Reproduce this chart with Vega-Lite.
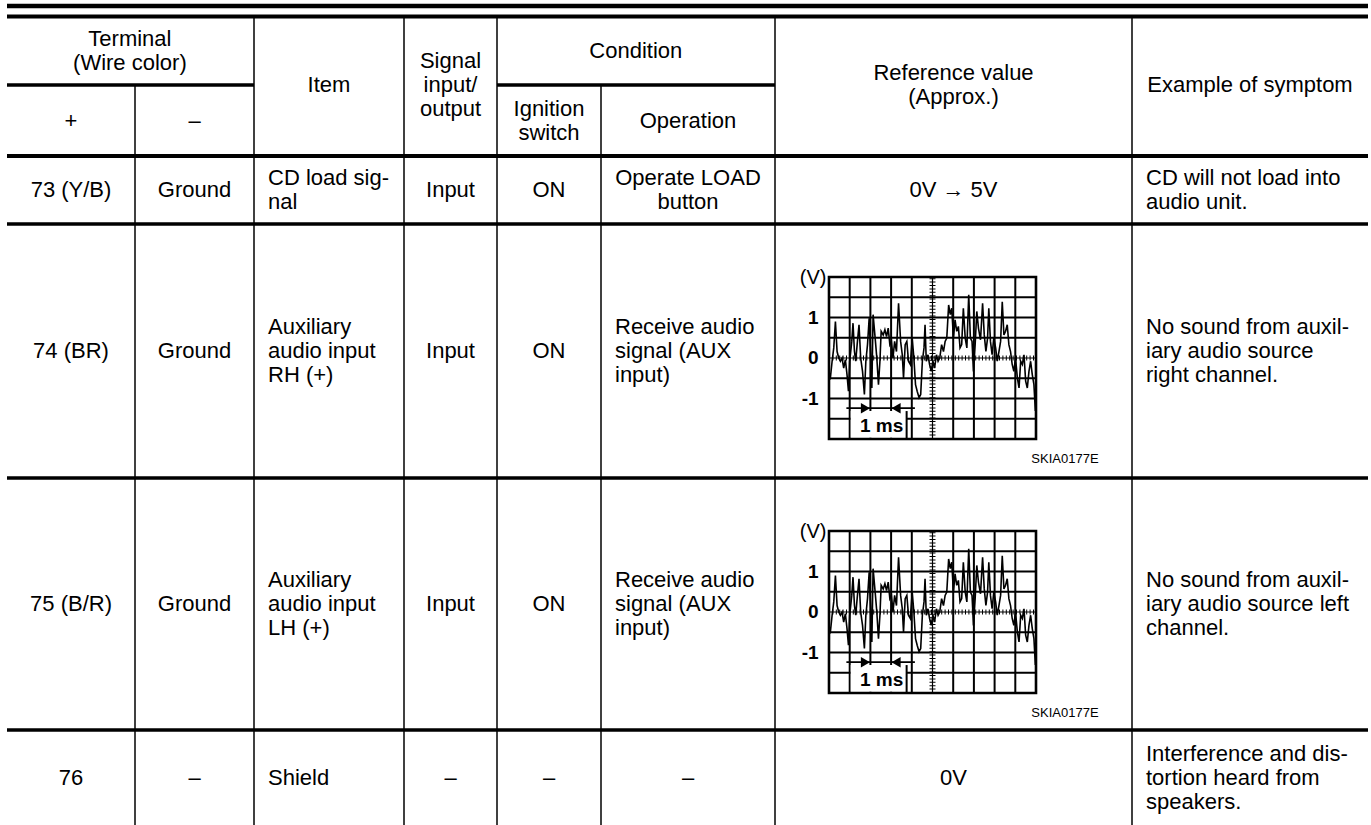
{
  "$schema": "https://vega.github.io/schema/vega-lite/v6.json",
  "width": 1371,
  "height": 825,
  "autosize": "none",
  "padding": 0,
  "background": "white",
  "config": {"font": "Liberation Sans", "view": {"stroke": null}},
  "datasets": {
    "hlines": [
      {"kind": "top", "y": 0, "x0": 0, "x1": 8},
      {"kind": "top2", "y": 1, "x0": 0, "x1": 8},
      {"kind": "thin", "y": 2, "x0": 0, "x1": 2},
      {"kind": "thin", "y": 2, "x0": 4, "x1": 6},
      {"kind": "head", "y": 3, "x0": 0, "x1": 8},
      {"kind": "thin", "y": 4, "x0": 0, "x1": 8},
      {"kind": "thin", "y": 5, "x0": 0, "x1": 8},
      {"kind": "thin", "y": 6, "x0": 0, "x1": 8}
    ],
    "vlines": [
      {"x": 1, "y0": 2, "y1": 7},
      {"x": 2, "y0": 1, "y1": 7},
      {"x": 3, "y0": 1, "y1": 7},
      {"x": 4, "y0": 1, "y1": 7},
      {"x": 5, "y0": 2, "y1": 7},
      {"x": 6, "y0": 1, "y1": 7},
      {"x": 7, "y0": 1, "y1": 7}
    ],
    "cells": [
      {"t": "Terminal\n(Wire color)", "c": 0.96, "r": 1.5, "a": "c"},
      {"t": "Item", "c": 2.5, "r": 2, "a": "c"},
      {"t": "Signal\ninput/\noutput", "c": 3.5, "r": 2, "a": "c"},
      {"t": "Condition", "c": 5.2, "r": 1.5, "a": "c"},
      {"t": "Reference value\n(Approx.)", "c": 6.5, "r": 2, "a": "c"},
      {"t": "Example of symptom", "c": 7.5, "r": 2, "a": "c"},
      {"t": "+", "c": 0.5, "r": 2.5, "a": "c"},
      {"t": "–", "c": 1.5, "r": 2.5, "a": "c"},
      {"t": "Ignition\nswitch", "c": 4.5, "r": 2.5, "a": "c"},
      {"t": "Operation", "c": 5.5, "r": 2.5, "a": "c"},
      {"t": "73 (Y/B)", "c": 0.5, "r": 3.5, "a": "c"},
      {"t": "Ground", "c": 1.5, "r": 3.5, "a": "c"},
      {"t": "CD load sig-\nnal", "c": 2, "r": 3.5, "a": "l"},
      {"t": "Input", "c": 3.5, "r": 3.5, "a": "c"},
      {"t": "ON", "c": 4.5, "r": 3.5, "a": "c"},
      {"t": "Operate LOAD\nbutton", "c": 5.5, "r": 3.5, "a": "c"},
      {"t": "0V → 5V", "c": 6.5, "r": 3.5, "a": "c"},
      {"t": "CD will not load into\naudio unit.", "c": 7, "r": 3.5, "a": "l"},
      {"t": "74 (BR)", "c": 0.5, "r": 4.5, "a": "c"},
      {"t": "Ground", "c": 1.5, "r": 4.5, "a": "c"},
      {"t": "Auxiliary\naudio input\nRH (+)", "c": 2, "r": 4.5, "a": "l"},
      {"t": "Input", "c": 3.5, "r": 4.5, "a": "c"},
      {"t": "ON", "c": 4.5, "r": 4.5, "a": "c"},
      {"t": "Receive audio\nsignal (AUX\ninput)", "c": 5, "r": 4.5, "a": "l"},
      {"t": "No sound from auxil-\niary audio source\nright channel.", "c": 7, "r": 4.5, "a": "l"},
      {"t": "75 (B/R)", "c": 0.5, "r": 5.5, "a": "c"},
      {"t": "Ground", "c": 1.5, "r": 5.5, "a": "c"},
      {"t": "Auxiliary\naudio input\nLH (+)", "c": 2, "r": 5.5, "a": "l"},
      {"t": "Input", "c": 3.5, "r": 5.5, "a": "c"},
      {"t": "ON", "c": 4.5, "r": 5.5, "a": "c"},
      {"t": "Receive audio\nsignal (AUX\ninput)", "c": 5, "r": 5.5, "a": "l"},
      {"t": "No sound from auxil-\niary audio source left\nchannel.", "c": 7, "r": 5.5, "a": "l"},
      {"t": "76", "c": 0.5, "r": 6.5, "a": "c"},
      {"t": "–", "c": 1.5, "r": 6.5, "a": "c"},
      {"t": "Shield", "c": 2, "r": 6.5, "a": "l"},
      {"t": "–", "c": 3.5, "r": 6.5, "a": "c"},
      {"t": "–", "c": 4.5, "r": 6.5, "a": "c"},
      {"t": "–", "c": 5.5, "r": 6.5, "a": "c"},
      {"t": "0V", "c": 6.5, "r": 6.5, "a": "c"},
      {"t": "Interference and dis-\ntortion heard from\nspeakers.", "c": 7, "r": 6.5, "a": "l"}
    ],
    "gx": [{"d": 1}, {"d": 2}, {"d": 3}, {"d": 4}, {"d": 6}, {"d": 7}, {"d": 8}, {"d": 9}],
    "gy": [{"v": -1.5}, {"v": -1}, {"v": -0.5}, {"v": 0.5}, {"v": 1}, {"v": 1.5}],
    "vlab": [{"t": "1", "v": 1}, {"t": "0", "v": 0}, {"t": "-1", "v": -1}],
    "one": [{"k": 1}],
    "wave": [
      {"d":0.00,"v":-0.33},{"d":0.06,"v":-0.53},{"d":0.15,"v":-0.08},{"d":0.23,"v":0.25},{"d":0.31,"v":0.90},
      {"d":0.39,"v":0.16},{"d":0.47,"v":0.00},{"d":0.55,"v":-0.08},{"d":0.63,"v":0.00},{"d":0.71,"v":-0.25},
      {"d":0.79,"v":-0.04},{"d":0.87,"v":-0.41},{"d":0.94,"v":-0.82},{"d":1.00,"v":-0.08},{"d":1.10,"v":0.41},
      {"d":1.16,"v":0.86},{"d":1.23,"v":0.16},{"d":1.29,"v":-0.08},{"d":1.36,"v":0.33},{"d":1.45,"v":0.82},
      {"d":1.53,"v":0.00},{"d":1.62,"v":-0.33},{"d":1.71,"v":-0.90},{"d":1.78,"v":-0.08},{"d":1.86,"v":0.33},
      {"d":1.94,"v":0.98},{"d":2.02,"v":0.00},{"d":2.07,"v":-0.74},{"d":2.13,"v":1.07},{"d":2.23,"v":0.49},
      {"d":2.31,"v":0.00},{"d":2.39,"v":-0.66},{"d":2.46,"v":-0.08},{"d":2.52,"v":0.66},{"d":2.62,"v":0.57},
      {"d":2.70,"v":0.70},{"d":2.78,"v":0.53},{"d":2.86,"v":0.74},{"d":2.94,"v":0.33},{"d":3.02,"v":0.41},
      {"d":3.09,"v":0.00},{"d":3.17,"v":0.41},{"d":3.26,"v":0.16},{"d":3.36,"v":1.35},{"d":3.46,"v":0.41},
      {"d":3.54,"v":0.08},{"d":3.60,"v":-0.49},{"d":3.68,"v":0.33},{"d":3.76,"v":0.41},{"d":3.84,"v":-0.08},
      {"d":3.93,"v":-0.16},{"d":4.02,"v":0.49},{"d":4.10,"v":0.00},{"d":4.18,"v":-0.66},{"d":4.26,"v":-0.82},
      {"d":4.35,"v":-0.98},{"d":4.43,"v":-0.90},{"d":4.51,"v":-0.08},{"d":4.59,"v":0.25},{"d":4.64,"v":0.82},
      {"d":4.70,"v":-0.08},{"d":4.78,"v":0.08},{"d":4.86,"v":-0.16},{"d":4.94,"v":-0.33},{"d":5.02,"v":-0.08},
      {"d":5.10,"v":-0.25},{"d":5.19,"v":0.08},{"d":5.27,"v":-0.08},{"d":5.35,"v":0.00},{"d":5.44,"v":0.33},
      {"d":5.53,"v":0.16},{"d":5.61,"v":0.41},{"d":5.69,"v":0.49},{"d":5.78,"v":1.31},{"d":5.86,"v":1.07},
      {"d":5.93,"v":1.23},{"d":6.01,"v":0.49},{"d":6.09,"v":0.94},{"d":6.17,"v":0.66},{"d":6.25,"v":0.78},
      {"d":6.33,"v":0.25},{"d":6.41,"v":0.33},{"d":6.49,"v":1.23},{"d":6.58,"v":0.49},{"d":6.66,"v":0.25},
      {"d":6.75,"v":1.56},{"d":6.83,"v":0.49},{"d":6.91,"v":0.41},{"d":6.98,"v":-0.33},{"d":7.06,"v":0.33},
      {"d":7.14,"v":1.15},{"d":7.22,"v":0.74},{"d":7.32,"v":0.45},{"d":7.42,"v":1.35},{"d":7.50,"v":0.57},
      {"d":7.58,"v":0.16},{"d":7.66,"v":0.49},{"d":7.72,"v":1.23},{"d":7.80,"v":0.41},{"d":7.88,"v":0.08},
      {"d":7.96,"v":0.49},{"d":8.05,"v":0.25},{"d":8.13,"v":-0.08},{"d":8.21,"v":0.16},{"d":8.29,"v":0.41},
      {"d":8.37,"v":1.39},{"d":8.45,"v":0.57},{"d":8.53,"v":0.66},{"d":8.61,"v":0.82},{"d":8.69,"v":0.33},
      {"d":8.77,"v":0.16},{"d":8.85,"v":-0.16},{"d":8.93,"v":-0.33},{"d":9.01,"v":0.00},{"d":9.10,"v":-0.49},
      {"d":9.18,"v":-0.74},{"d":9.26,"v":-0.08},{"d":9.34,"v":-0.16},{"d":9.42,"v":0.08},{"d":9.50,"v":-0.57},
      {"d":9.58,"v":-0.74},{"d":9.66,"v":-0.33},{"d":9.74,"v":-0.08},{"d":9.82,"v":-0.41},{"d":9.90,"v":-0.66},
      {"d":9.97,"v":-1.31}
    ]
  },
  "resolve": {"scale": {"x": "independent", "y": "independent"}},
  "layer": [
    {
      "layer": [
        {
          "data": {"name": "hlines"},
          "mark": {"type": "rule", "color": "#000"},
          "encoding": {
            "x": {"field": "x0", "type": "quantitative", "axis": null, "scale": {"domain": [0,1,2,3,4,5,6,7,8], "range": [7,135,254,404,497,601,775,1132,1368], "zero": false, "nice": false}},
            "x2": {"field": "x1"},
            "y": {"field": "y", "type": "quantitative", "axis": null, "scale": {"domain": [0,1,2,3,4,5,6,7], "range": [6,16.5,85,156,224,478,730,825], "zero": false, "nice": false}},
            "strokeWidth": {"field": "kind", "type": "nominal", "legend": null, "scale": {"domain": ["top","top2","head","thin"], "range": [4.5,3.5,2.2,1.5]}}
          }
        },
        {
          "data": {"name": "vlines"},
          "mark": {"type": "rule", "color": "#000", "strokeWidth": 1.5},
          "encoding": {
            "x": {"field": "x", "type": "quantitative", "axis": null},
            "y": {"field": "y0", "type": "quantitative", "axis": null},
            "y2": {"field": "y1"}
          }
        },
        {
          "data": {"name": "cells"},
          "transform": [{"filter": "datum.a === 'c' && indexof(datum.t, '\\n') < 0"}],
          "mark": {"type": "text", "align": "center", "baseline": "middle", "fontSize": 22, "lineHeight": 24, "lineBreak": "\n", "color": "#000"},
          "encoding": {"x": {"field": "c", "type": "quantitative", "axis": null}, "y": {"field": "r", "type": "quantitative", "axis": null}, "text": {"field": "t"}}
        },
        {
          "data": {"name": "cells"},
          "transform": [{"filter": "datum.a === 'c' && indexof(datum.t, '\\n') >= 0 && indexof(datum.t, '\\n') === lastindexof(datum.t, '\\n')"}],
          "mark": {"type": "text", "align": "center", "baseline": "middle", "dy": -12, "fontSize": 22, "lineHeight": 24, "lineBreak": "\n", "color": "#000"},
          "encoding": {"x": {"field": "c", "type": "quantitative", "axis": null}, "y": {"field": "r", "type": "quantitative", "axis": null}, "text": {"field": "t"}}
        },
        {
          "data": {"name": "cells"},
          "transform": [{"filter": "datum.a === 'c' && indexof(datum.t, '\\n') !== lastindexof(datum.t, '\\n')"}],
          "mark": {"type": "text", "align": "center", "baseline": "middle", "dy": -24, "fontSize": 22, "lineHeight": 24, "lineBreak": "\n", "color": "#000"},
          "encoding": {"x": {"field": "c", "type": "quantitative", "axis": null}, "y": {"field": "r", "type": "quantitative", "axis": null}, "text": {"field": "t"}}
        },
        {
          "data": {"name": "cells"},
          "transform": [{"filter": "datum.a === 'l' && indexof(datum.t, '\\n') < 0"}],
          "mark": {"type": "text", "align": "left", "baseline": "middle", "dx": 14, "fontSize": 22, "lineHeight": 24, "lineBreak": "\n", "color": "#000"},
          "encoding": {"x": {"field": "c", "type": "quantitative", "axis": null}, "y": {"field": "r", "type": "quantitative", "axis": null}, "text": {"field": "t"}}
        },
        {
          "data": {"name": "cells"},
          "transform": [{"filter": "datum.a === 'l' && indexof(datum.t, '\\n') >= 0 && indexof(datum.t, '\\n') === lastindexof(datum.t, '\\n')"}],
          "mark": {"type": "text", "align": "left", "baseline": "middle", "dx": 14, "dy": -12, "fontSize": 22, "lineHeight": 24, "lineBreak": "\n", "color": "#000"},
          "encoding": {"x": {"field": "c", "type": "quantitative", "axis": null}, "y": {"field": "r", "type": "quantitative", "axis": null}, "text": {"field": "t"}}
        },
        {
          "data": {"name": "cells"},
          "transform": [{"filter": "datum.a === 'l' && indexof(datum.t, '\\n') !== lastindexof(datum.t, '\\n')"}],
          "mark": {"type": "text", "align": "left", "baseline": "middle", "dx": 14, "dy": -24, "fontSize": 22, "lineHeight": 24, "lineBreak": "\n", "color": "#000"},
          "encoding": {"x": {"field": "c", "type": "quantitative", "axis": null}, "y": {"field": "r", "type": "quantitative", "axis": null}, "text": {"field": "t"}}
        }
      ]
    },
    {
      "layer": [
        {"data": {"name": "gx"}, "mark": {"type": "rule", "color": "#000", "strokeWidth": 2},
         "encoding": {"x": {"field": "d", "type": "quantitative", "axis": null, "scale": {"domain": [0,10], "range": [829,1036], "zero": false, "nice": false}},
                      "y": {"datum": -2, "type": "quantitative", "axis": null, "scale": {"domain": [-2,2], "range": [439,277], "zero": false, "nice": false}}, "y2": {"datum": 2}}},
        {"data": {"name": "gy"}, "mark": {"type": "rule", "color": "#000", "strokeWidth": 2},
         "encoding": {"y": {"field": "v", "type": "quantitative", "axis": null}, "x": {"datum": 0, "type": "quantitative", "axis": null}, "x2": {"datum": 10}}},
        {"data": {"name": "one"}, "mark": {"type": "rule", "color": "#000", "strokeWidth": 1.2},
         "encoding": {"x": {"datum": 5, "type": "quantitative", "axis": null}, "y": {"datum": -2, "type": "quantitative", "axis": null}, "y2": {"datum": 2}}},
        {"data": {"name": "one"}, "mark": {"type": "rule", "color": "#000", "strokeWidth": 6, "strokeDash": [1, 2.4]},
         "encoding": {"x": {"datum": 5, "type": "quantitative", "axis": null}, "y": {"datum": -2, "type": "quantitative", "axis": null}, "y2": {"datum": 2}}},
        {"data": {"name": "one"}, "mark": {"type": "rule", "color": "#000", "strokeWidth": 1.2},
         "encoding": {"y": {"datum": 0, "type": "quantitative", "axis": null}, "x": {"datum": 0, "type": "quantitative", "axis": null}, "x2": {"datum": 10}}},
        {"data": {"name": "one"}, "mark": {"type": "rule", "color": "#000", "strokeWidth": 5, "strokeDash": [1, 2.4]},
         "encoding": {"y": {"datum": 0, "type": "quantitative", "axis": null}, "x": {"datum": 0, "type": "quantitative", "axis": null}, "x2": {"datum": 10}}},
        {"data": {"name": "wave"}, "mark": {"type": "line", "color": "#000", "strokeWidth": 1.6},
         "encoding": {"x": {"field": "d", "type": "quantitative", "axis": null}, "y": {"field": "v", "type": "quantitative", "axis": null}}},
        {"data": {"name": "one"}, "mark": {"type": "rect", "color": "white"},
         "encoding": {"x": {"datum": 1.05, "type": "quantitative", "axis": null}, "x2": {"datum": 3.75}, "y": {"datum": -1.31, "type": "quantitative", "axis": null}, "y2": {"datum": -1.97}}},
        {"data": {"name": "one"}, "mark": {"type": "rule", "color": "#000", "strokeWidth": 2},
         "encoding": {"x": {"datum": 3.75, "type": "quantitative", "axis": null}, "y": {"datum": -1.31, "type": "quantitative", "axis": null}, "y2": {"datum": -2}}},
        {"data": {"name": "one"}, "mark": {"type": "rule", "color": "#000", "strokeWidth": 1.8},
         "encoding": {"x": {"datum": 0.84, "type": "quantitative", "axis": null}, "x2": {"datum": 4.15}, "y": {"datum": -1.24, "type": "quantitative", "axis": null}}},
        {"data": {"name": "one"}, "mark": {"type": "point", "shape": "triangle-right", "filled": true, "size": 110, "color": "#000", "opacity": 1},
         "encoding": {"x": {"datum": 1.76, "type": "quantitative", "axis": null}, "y": {"datum": -1.24, "type": "quantitative", "axis": null}}},
        {"data": {"name": "one"}, "mark": {"type": "point", "shape": "triangle-left", "filled": true, "size": 110, "color": "#000", "opacity": 1},
         "encoding": {"x": {"datum": 3.24, "type": "quantitative", "axis": null}, "y": {"datum": -1.24, "type": "quantitative", "axis": null}}},
        {"data": {"name": "one"}, "mark": {"type": "rect", "fill": "transparent", "stroke": "#000", "strokeWidth": 2.6},
         "encoding": {"x": {"datum": 0, "type": "quantitative", "axis": null}, "x2": {"datum": 10}, "y": {"datum": -2, "type": "quantitative", "axis": null}, "y2": {"datum": 2}}},
        {"data": {"name": "vlab"}, "mark": {"type": "text", "align": "right", "baseline": "middle", "fontSize": 19, "fontWeight": "bold", "color": "#000"},
         "encoding": {"x": {"datum": -0.5, "type": "quantitative", "axis": null}, "y": {"field": "v", "type": "quantitative", "axis": null}, "text": {"field": "t"}}},
        {"data": {"name": "one"}, "mark": {"type": "text", "align": "right", "baseline": "middle", "fontSize": 20, "color": "#000"},
         "encoding": {"x": {"datum": -0.12, "type": "quantitative", "axis": null}, "y": {"datum": 1.97, "type": "quantitative", "axis": null}, "text": {"value": "(V)"}}},
        {"data": {"name": "one"}, "mark": {"type": "text", "align": "center", "baseline": "middle", "fontSize": 19, "fontWeight": "bold", "color": "#000"},
         "encoding": {"x": {"datum": 2.54, "type": "quantitative", "axis": null}, "y": {"datum": -1.68, "type": "quantitative", "axis": null}, "text": {"value": "1 ms"}}},
        {"data": {"name": "one"}, "mark": {"type": "text", "align": "center", "baseline": "middle", "fontSize": 13, "color": "#000"},
         "encoding": {"x": {"datum": 11.4, "type": "quantitative", "axis": null}, "y": {"datum": -2.5, "type": "quantitative", "axis": null}, "text": {"value": "SKIA0177E"}}}
      ]
    },
    {
      "layer": [
        {"data": {"name": "gx"}, "mark": {"type": "rule", "color": "#000", "strokeWidth": 2},
         "encoding": {"x": {"field": "d", "type": "quantitative", "axis": null, "scale": {"domain": [0,10], "range": [829,1036], "zero": false, "nice": false}},
                      "y": {"datum": -2, "type": "quantitative", "axis": null, "scale": {"domain": [-2,2], "range": [693,531], "zero": false, "nice": false}}, "y2": {"datum": 2}}},
        {"data": {"name": "gy"}, "mark": {"type": "rule", "color": "#000", "strokeWidth": 2},
         "encoding": {"y": {"field": "v", "type": "quantitative", "axis": null}, "x": {"datum": 0, "type": "quantitative", "axis": null}, "x2": {"datum": 10}}},
        {"data": {"name": "one"}, "mark": {"type": "rule", "color": "#000", "strokeWidth": 1.2},
         "encoding": {"x": {"datum": 5, "type": "quantitative", "axis": null}, "y": {"datum": -2, "type": "quantitative", "axis": null}, "y2": {"datum": 2}}},
        {"data": {"name": "one"}, "mark": {"type": "rule", "color": "#000", "strokeWidth": 6, "strokeDash": [1, 2.4]},
         "encoding": {"x": {"datum": 5, "type": "quantitative", "axis": null}, "y": {"datum": -2, "type": "quantitative", "axis": null}, "y2": {"datum": 2}}},
        {"data": {"name": "one"}, "mark": {"type": "rule", "color": "#000", "strokeWidth": 1.2},
         "encoding": {"y": {"datum": 0, "type": "quantitative", "axis": null}, "x": {"datum": 0, "type": "quantitative", "axis": null}, "x2": {"datum": 10}}},
        {"data": {"name": "one"}, "mark": {"type": "rule", "color": "#000", "strokeWidth": 5, "strokeDash": [1, 2.4]},
         "encoding": {"y": {"datum": 0, "type": "quantitative", "axis": null}, "x": {"datum": 0, "type": "quantitative", "axis": null}, "x2": {"datum": 10}}},
        {"data": {"name": "wave"}, "mark": {"type": "line", "color": "#000", "strokeWidth": 1.6},
         "encoding": {"x": {"field": "d", "type": "quantitative", "axis": null}, "y": {"field": "v", "type": "quantitative", "axis": null}}},
        {"data": {"name": "one"}, "mark": {"type": "rect", "color": "white"},
         "encoding": {"x": {"datum": 1.05, "type": "quantitative", "axis": null}, "x2": {"datum": 3.75}, "y": {"datum": -1.31, "type": "quantitative", "axis": null}, "y2": {"datum": -1.97}}},
        {"data": {"name": "one"}, "mark": {"type": "rule", "color": "#000", "strokeWidth": 2},
         "encoding": {"x": {"datum": 3.75, "type": "quantitative", "axis": null}, "y": {"datum": -1.31, "type": "quantitative", "axis": null}, "y2": {"datum": -2}}},
        {"data": {"name": "one"}, "mark": {"type": "rule", "color": "#000", "strokeWidth": 1.8},
         "encoding": {"x": {"datum": 0.84, "type": "quantitative", "axis": null}, "x2": {"datum": 4.15}, "y": {"datum": -1.24, "type": "quantitative", "axis": null}}},
        {"data": {"name": "one"}, "mark": {"type": "point", "shape": "triangle-right", "filled": true, "size": 110, "color": "#000", "opacity": 1},
         "encoding": {"x": {"datum": 1.76, "type": "quantitative", "axis": null}, "y": {"datum": -1.24, "type": "quantitative", "axis": null}}},
        {"data": {"name": "one"}, "mark": {"type": "point", "shape": "triangle-left", "filled": true, "size": 110, "color": "#000", "opacity": 1},
         "encoding": {"x": {"datum": 3.24, "type": "quantitative", "axis": null}, "y": {"datum": -1.24, "type": "quantitative", "axis": null}}},
        {"data": {"name": "one"}, "mark": {"type": "rect", "fill": "transparent", "stroke": "#000", "strokeWidth": 2.6},
         "encoding": {"x": {"datum": 0, "type": "quantitative", "axis": null}, "x2": {"datum": 10}, "y": {"datum": -2, "type": "quantitative", "axis": null}, "y2": {"datum": 2}}},
        {"data": {"name": "vlab"}, "mark": {"type": "text", "align": "right", "baseline": "middle", "fontSize": 19, "fontWeight": "bold", "color": "#000"},
         "encoding": {"x": {"datum": -0.5, "type": "quantitative", "axis": null}, "y": {"field": "v", "type": "quantitative", "axis": null}, "text": {"field": "t"}}},
        {"data": {"name": "one"}, "mark": {"type": "text", "align": "right", "baseline": "middle", "fontSize": 20, "color": "#000"},
         "encoding": {"x": {"datum": -0.12, "type": "quantitative", "axis": null}, "y": {"datum": 1.97, "type": "quantitative", "axis": null}, "text": {"value": "(V)"}}},
        {"data": {"name": "one"}, "mark": {"type": "text", "align": "center", "baseline": "middle", "fontSize": 19, "fontWeight": "bold", "color": "#000"},
         "encoding": {"x": {"datum": 2.54, "type": "quantitative", "axis": null}, "y": {"datum": -1.68, "type": "quantitative", "axis": null}, "text": {"value": "1 ms"}}},
        {"data": {"name": "one"}, "mark": {"type": "text", "align": "center", "baseline": "middle", "fontSize": 13, "color": "#000"},
         "encoding": {"x": {"datum": 11.4, "type": "quantitative", "axis": null}, "y": {"datum": -2.5, "type": "quantitative", "axis": null}, "text": {"value": "SKIA0177E"}}}
      ]
    }
  ]
}
